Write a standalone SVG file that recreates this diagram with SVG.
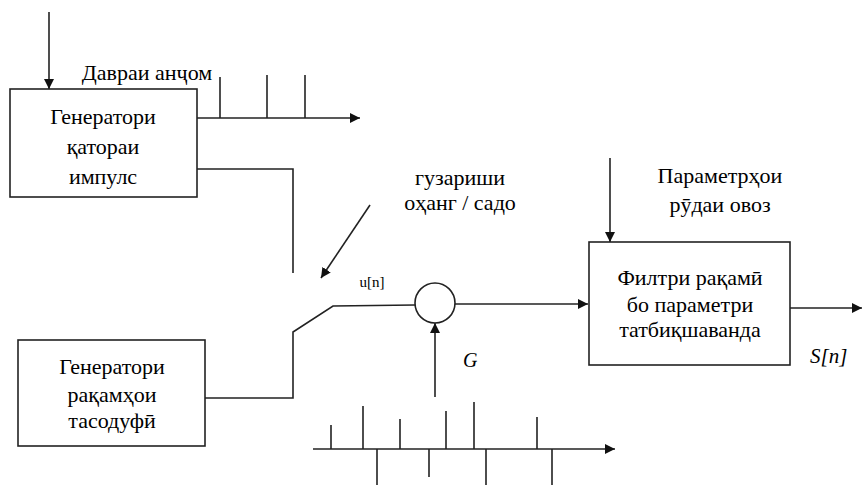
<svg xmlns="http://www.w3.org/2000/svg" width="862" height="486" viewBox="0 0 862 486">
<defs>
<marker id="ah" viewBox="0 0 10 10" refX="10" refY="5" markerWidth="10" markerHeight="10" markerUnits="userSpaceOnUse" orient="auto">
<path d="M0,0 L10,5 L0,10 z" fill="#111"/>
</marker>
</defs>
<rect width="862" height="486" fill="#fff"/>
<g id="connectors" fill="none" stroke="#222" stroke-width="1.6">
<line x1="49" y1="12" x2="49" y2="89" marker-end="url(#ah)"/>
<line x1="197" y1="118" x2="360" y2="118" marker-end="url(#ah)"/>
<line x1="220" y1="77" x2="220" y2="118"/>
<line x1="267" y1="75" x2="267" y2="118"/>
<line x1="305" y1="75" x2="305" y2="118"/>
<polyline points="197,169 293,169 293,273"/>
<line x1="370" y1="205" x2="321" y2="278" marker-end="url(#ah)"/>
<polyline points="205,398 293,398 293,332 333,306 415,305"/>
<line x1="455" y1="304" x2="588" y2="304" marker-end="url(#ah)"/>
<line x1="435" y1="397" x2="435" y2="323" marker-end="url(#ah)"/>
<line x1="610" y1="158" x2="610" y2="242" marker-end="url(#ah)"/>
<line x1="790" y1="308" x2="862" y2="308" marker-end="url(#ah)"/>
<line x1="313" y1="449" x2="615" y2="449" marker-end="url(#ah)"/>
<path d="M331,449V425 M363,449V406 M400,449V419 M446,449V411 M474,449V402 M537,449V417 M377,449V485 M429,449V477 M486,449V485 M552,449V485"/>
</g>
<g id="pulse-gen">
<rect x="10" y="89" width="187" height="108" fill="#fff" stroke="#222" stroke-width="1.6"/>
<text font-family="Liberation Serif" font-size="22" text-anchor="middle" x="103" y="124">Генератори</text>
<text font-family="Liberation Serif" font-size="22" text-anchor="middle" x="103" y="154">қатораи</text>
<text font-family="Liberation Serif" font-size="22" text-anchor="middle" x="103" y="184">импулс</text>
</g>
<g id="noise-gen">
<rect x="18" y="340" width="187" height="106" fill="#fff" stroke="#222" stroke-width="1.6"/>
<text font-family="Liberation Serif" font-size="22" text-anchor="middle" x="112" y="374">Генератори</text>
<text font-family="Liberation Serif" font-size="22" text-anchor="middle" x="112" y="402">рақамҳои</text>
<text font-family="Liberation Serif" font-size="22" text-anchor="middle" x="112" y="428">тасодуфӣ</text>
</g>
<g id="multiplier">
<circle cx="435" cy="303" r="20" fill="#fff" stroke="#222" stroke-width="1.6"/>
</g>
<g id="filter">
<rect x="589" y="242" width="201" height="123" fill="#fff" stroke="#222" stroke-width="1.6"/>
<text font-family="Liberation Serif" font-size="22" text-anchor="middle" x="690" y="285">Филтри рақамӣ</text>
<text font-family="Liberation Serif" font-size="22" text-anchor="middle" x="690" y="312">бо параметри</text>
<text font-family="Liberation Serif" font-size="22" text-anchor="middle" x="690" y="337">татбиқшаванда</text>
</g>
<g id="labels">
<text font-family="Liberation Serif" font-size="22" text-anchor="middle" x="147" y="80">Давраи анҷом</text>
<text font-family="Liberation Serif" font-size="22" text-anchor="middle" x="460" y="185">гузариши</text>
<text font-family="Liberation Serif" font-size="22" text-anchor="middle" x="460" y="210">оҳанг / садо</text>
<text font-family="Liberation Serif" font-size="15" text-anchor="middle" x="372" y="287">u[n]</text>
<text font-family="Liberation Serif" font-size="22" text-anchor="middle" x="720" y="183">Параметрҳои</text>
<text font-family="Liberation Serif" font-size="22" text-anchor="middle" x="720" y="212">рӯдаи овоз</text>
<text font-family="Liberation Serif" font-style="italic" font-size="20" x="463" y="367">G</text>
<text font-family="Liberation Serif" font-style="italic" font-size="21" x="810" y="363">S[n]</text>
</g>
</svg>
